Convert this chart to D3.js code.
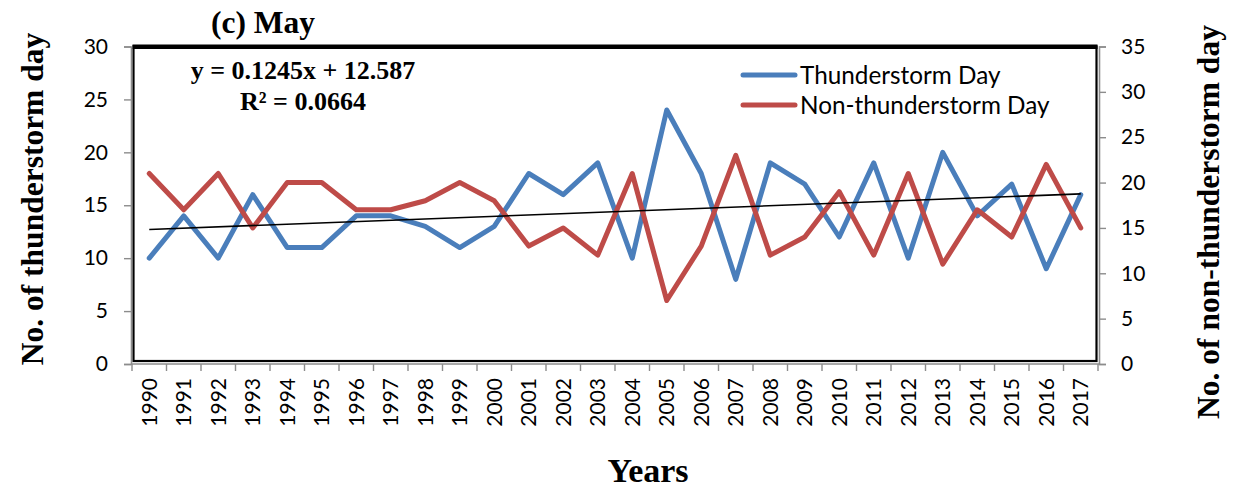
<!DOCTYPE html>
<html>
<head>
<meta charset="utf-8">
<script src="https://cdn.jsdelivr.net/npm/d3@7"></script>
<style>
  html, body { margin: 0; padding: 0; background: #fff; }
  svg { display: block; }
</style>
</head>
<body>
<svg id="chart" width="1233" height="489"></svg>
<script>
// May thunderstorm / non-thunderstorm day counts, 1990–2017
const years = d3.range(1990, 2018).map(String);
const thunderDays = [10, 14, 10, 16, 11, 11, 14, 14, 13, 11, 13, 18, 16, 19, 10,
                     24, 18, 8, 19, 17, 12, 19, 10, 20, 14, 17, 9, 16];
const nonThunderDays = [21, 17, 21, 15, 20, 20, 17, 17, 18, 20, 18, 13, 15, 12, 21,
                        7, 13, 23, 12, 14, 19, 12, 21, 11, 17, 14, 22, 15];
const leftTicks = [0, 5, 10, 15, 20, 25, 30];
const rightTicks = [0, 5, 10, 15, 20, 25, 30, 35];
const trendSlope = 0.1245, trendIntercept = 12.587;
const seriesNames = ["Thunderstorm Day", "Non-thunderstorm Day"];

const blue = "#4A7EBB", red = "#BE4B48";
const sansFont = "Lato, 'Open Sans', sans-serif";
const serifFont = "'Liberation Serif', 'Times New Roman', serif";

const svg = d3.select("#chart");
const plotL = 131, plotR = 1099, plotT = 46.5, plotB = 364;

const x = d3.scaleBand().domain(years).range([plotL + 1, plotR - 1]);
const yL = d3.scaleLinear().domain([0, 30]).range([plotB, plotT]);
const yR = d3.scaleLinear().domain([0, 35]).range([plotB, plotT]);
const cx = d => x(d) + x.bandwidth() / 2;

// plot area frame
svg.append("rect")
  .attr("x", plotL + 2.5).attr("y", plotT)
  .attr("width", plotR - plotL - 5).attr("height", plotB - plotT - 3)
  .attr("fill", "none").attr("stroke", "#000").attr("stroke-width", 2.2);
svg.append("line")
  .attr("x1", plotL + 1.5).attr("x2", plotR - 1.5)
  .attr("y1", plotT + 0.3).attr("y2", plotT + 0.3)
  .attr("stroke", "#000").attr("stroke-width", 4.5);

// axes
const grey = "#8c8c8c";
function styleAxis(g) {
  g.selectAll(".domain").attr("stroke", grey).attr("stroke-width", 1.6);
  g.selectAll(".tick line").attr("stroke", grey).attr("stroke-width", 1.4);
  g.selectAll(".tick text")
    .attr("font-family", sansFont).attr("font-size", 21).attr("fill", "#000");
}

svg.append("g").attr("transform", `translate(${plotL},0)`)
  .call(d3.axisLeft(yL).tickValues(leftTicks).tickSize(7).tickSizeOuter(7).tickPadding(16))
  .call(styleAxis);

svg.append("g").attr("transform", `translate(${plotR},0)`)
  .call(d3.axisRight(yR).tickValues(rightTicks).tickSize(7).tickSizeOuter(7).tickPadding(15))
  .call(styleAxis);

// category axis: ticks between years, labels rotated
const xg = svg.append("g").attr("transform", `translate(0,${plotB})`);
xg.append("line").attr("x1", plotL).attr("x2", plotR)
  .attr("stroke", grey).attr("stroke-width", 1.6);
const tickPos = years.map(d => x(d)).concat([x(years[years.length - 1]) + x.bandwidth()]);
xg.selectAll("line.t").data(tickPos).join("line").attr("class", "t")
  .attr("x1", d => d).attr("x2", d => d).attr("y1", 0).attr("y2", 7)
  .attr("stroke", grey).attr("stroke-width", 1.4);
xg.selectAll("text").data(years).join("text")
  .attr("transform", d => `translate(${cx(d) + 7.5},14) rotate(-90)`)
  .attr("text-anchor", "end")
  .attr("font-family", sansFont).attr("font-size", 21)
  .text(d => d);

// series lines
const lineL = d3.line().x((d, i) => cx(years[i])).y(d => yL(d));
const lineR = d3.line().x((d, i) => cx(years[i])).y(d => yR(d));

svg.append("path").datum(thunderDays)
  .attr("d", lineL).attr("fill", "none")
  .attr("stroke", blue).attr("stroke-width", 5)
  .attr("stroke-linejoin", "round").attr("stroke-linecap", "round");

svg.append("path").datum(nonThunderDays)
  .attr("d", lineR).attr("fill", "none")
  .attr("stroke", red).attr("stroke-width", 5)
  .attr("stroke-linejoin", "round").attr("stroke-linecap", "round");

// linear trend of thunderstorm days
const trend = years.map((d, i) => trendSlope * (i + 1) + trendIntercept);
const trendEnds = [0, years.length - 1];
svg.append("path").datum(trendEnds)
  .attr("d", d3.line().x(i => cx(years[i])).y(i => yL(trend[i])))
  .attr("stroke", "#000").attr("stroke-width", 1.6).attr("fill", "none");

// trend equation
svg.append("text").attr("x", 303).attr("y", 79)
  .attr("text-anchor", "middle").attr("font-family", serifFont)
  .attr("font-weight", "bold").attr("font-size", 26)
  .text(`y = ${trendSlope}x + ${trendIntercept}`);
svg.append("text").attr("x", 303).attr("y", 110)
  .attr("text-anchor", "middle").attr("font-family", serifFont)
  .attr("font-weight", "bold").attr("font-size", 26)
  .text("R² = 0.0664");

// legend
const legend = svg.append("g");
[blue, red].forEach((c, i) => {
  const ly = 75 + i * 30;
  legend.append("line").attr("x1", 743).attr("x2", 795)
    .attr("y1", ly).attr("y2", ly)
    .attr("stroke", c).attr("stroke-width", 5).attr("stroke-linecap", "round");
  legend.append("text").attr("x", 800).attr("y", ly + 8.5)
    .attr("font-family", sansFont).attr("font-size", 24.3)
    .text(seriesNames[i]);
});

// title and axis titles
svg.append("text").attr("x", 263).attr("y", 33)
  .attr("text-anchor", "middle").attr("font-family", serifFont)
  .attr("font-weight", "bold").attr("font-size", 31.5)
  .text("(c) May");

svg.append("text")
  .attr("transform", "translate(43,199) rotate(-90)")
  .attr("text-anchor", "middle").attr("font-family", serifFont)
  .attr("font-weight", "bold").attr("font-size", 31.5)
  .text("No. of thunderstorm day");

svg.append("text")
  .attr("transform", "translate(1219,222) rotate(-90)")
  .attr("text-anchor", "middle").attr("font-family", serifFont)
  .attr("font-weight", "bold").attr("font-size", 31.5)
  .text("No. of non-thunderstorm day");

svg.append("text").attr("x", 648).attr("y", 482)
  .attr("text-anchor", "middle").attr("font-family", serifFont)
  .attr("font-weight", "bold").attr("font-size", 34)
  .text("Years");
</script>
</body>
</html>
